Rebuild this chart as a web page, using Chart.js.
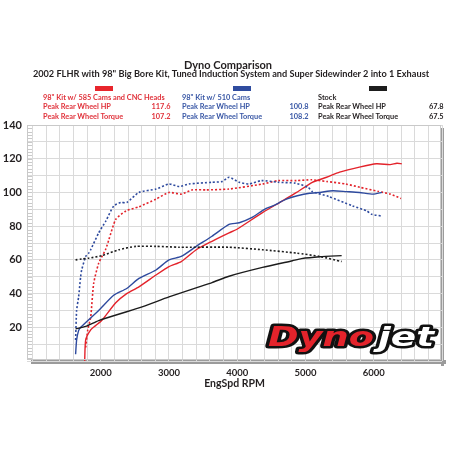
<!DOCTYPE html>
<html>
<head>
<meta charset="utf-8">
<script src="https://cdn.jsdelivr.net/npm/chart.js@4.4.0/dist/chart.umd.min.js"></script>
<style>
  html, body { margin: 0; padding: 0; background: #fff; }
  #wrap { position: relative; width: 458px; height: 458px; font-family: Lato, 'Open Sans', sans-serif; font-weight: 700; color: #231f20; }
  #wrap canvas { position: absolute; left: 0; top: 0; }
  .t { position: absolute; white-space: nowrap; line-height: 1; }
  .c { left: 0; width: 458px; text-align: center; }
  .leg { font-size: 8.4px; transform: scaleX(0.88); transform-origin: left center; }
  .num { transform-origin: right center; }
  .red { color: #e0323b; }
  .blue { color: #3a58a6; }
  .sw { position: absolute; top: 86px; width: 18px; height: 5px; }
</style>
</head>
<body>
<div id="wrap">
  <canvas id="dynoChart" width="458" height="458"></canvas>

  <div class="t c" style="top:59px;font-size:11px;left:-1px;">Dyno Comparison</div>
  <div class="t c" style="top:69px;font-size:9.2px;left:2px;">2002 FLHR with 98" Big Bore Kit, Tuned Induction System and Super Sidewinder 2 into 1 Exhaust</div>

  <div class="sw" style="left:95px;background:#e8252c;"></div>
  <div class="sw" style="left:233px;background:#2f4c9f;"></div>
  <div class="sw" style="left:369px;background:#1d1d1d;"></div>

  <div class="t leg red" style="left:43px;top:93px;">98" Kit w/ 585 Cams and CNC Heads</div>
  <div class="t leg red" style="left:43px;top:102px;">Peak Rear Wheel HP</div>
  <div class="t leg num red" style="right:288px;top:102px;">117.6</div>
  <div class="t leg red" style="left:43px;top:112px;">Peak Rear Wheel Torque</div>
  <div class="t leg num red" style="right:288px;top:112px;">107.2</div>

  <div class="t leg blue" style="left:182px;top:93px;">98" Kit w/ 510 Cams</div>
  <div class="t leg blue" style="left:182px;top:102px;">Peak Rear Wheel HP</div>
  <div class="t leg num blue" style="right:150px;top:102px;">100.8</div>
  <div class="t leg blue" style="left:182px;top:112px;">Peak Rear Wheel Torque</div>
  <div class="t leg num blue" style="right:150px;top:112px;">108.2</div>

  <div class="t leg" style="left:318px;top:93px;">Stock</div>
  <div class="t leg" style="left:318px;top:102px;">Peak Rear Wheel HP</div>
  <div class="t leg num" style="right:14px;top:102px;">67.8</div>
  <div class="t leg" style="left:318px;top:112px;">Peak Rear Wheel Torque</div>
  <div class="t leg num" style="right:14px;top:112px;">67.5</div>
</div>

<script>
// 98" kit w/ 585 cams + CNC heads (red)
const rpmRedHp = [1765, 1780, 1853, 1926, 2015, 2220, 2380, 2560, 2810, 3000, 3180, 3400, 3630, 3880, 3990, 4370, 4620, 4870, 5100, 5310, 5500, 5790, 6040, 6240, 6340, 6410];
const redHp    = [0, 12.5, 18.5, 21, 24, 34.5, 40, 44, 51, 56, 59, 66, 71, 76, 78, 88, 94, 100, 106, 109, 112, 115, 117, 116.5, 117.3, 117];
const rpmRedTq = [1780, 1810, 1853, 1897, 1970, 2070, 2120, 2220, 2370, 2560, 2810, 3000, 3180, 3340, 3540, 3880, 4370, 4600, 4870, 5090, 5310, 5590, 5800, 6070, 6240, 6400];
const redTq    = [8, 18.5, 26, 46, 58, 66, 72, 84, 89, 91.5, 96, 100, 99, 101.5, 101.5, 102, 105, 107, 107, 107.5, 106.5, 105, 103, 100.6, 99, 96.4];

// 98" kit w/ 510 cams (blue)
const rpmBlueHp = [1632, 1647, 1676, 1706, 1970, 2190, 2380, 2560, 2810, 3000, 3180, 3400, 3630, 3880, 4030, 4210, 4400, 4520, 4720, 4880, 5060, 5210, 5400, 5600, 5790, 5990, 6120];
const blueHp    = [4, 12.5, 18, 20, 30, 39, 43, 49, 54, 60, 62, 68, 74, 81, 82, 85, 90, 92, 96, 98, 99.5, 100, 101, 100.5, 100, 99, 100];
const rpmBlueTq = [1632, 1647, 1676, 1706, 1721, 1780, 1824, 1853, 1970, 2074, 2191, 2294, 2382, 2560, 2810, 3000, 3150, 3290, 3630, 3780, 3880, 4030, 4176, 4353, 4600, 4850, 5040, 5100, 5340, 5690, 5900, 5970, 6120];
const blueTq    = [12.5, 30, 38, 50, 54, 62, 64, 66, 76, 83, 92, 94, 94, 100, 102, 105, 103.5, 105, 106, 106.5, 109, 106, 105, 107, 106, 105.5, 103, 100.5, 97.6, 92, 89, 87, 86];

// Stock (black)
const rpmStockHp = [1632, 1780, 1970, 2560, 3000, 3441, 3630, 3880, 4370, 4810, 4940, 5210, 5530];
const stockHp    = [19, 20.5, 24, 31.5, 38, 44, 46.5, 50.3, 55.5, 59.5, 60.7, 61.8, 62.5];
const rpmStockTq = [1632, 1720, 1824, 2015, 2265, 2515, 2810, 3150, 3880, 4370, 4870, 5210, 5530];
const stockTq    = [60, 60.5, 61, 62.5, 66, 68, 68, 67.5, 67.5, 66, 64, 62, 59];

// axis labels
const xTickLabels = [2000, 3000, 4000, 5000, 6000];
const yTickLabels = [20, 40, 60, 80, 100, 120, 140];

const RED = '#e3232b', BLUE = '#2e4a9e', BLACK = '#1c1c1c';

function pts(xs, ys) {
    return xs.map((x, i) => ({ x: x, y: ys[i] }));
}

function series(label, xs, ys, color, dotted) {
    return {
        label: label,
        data: pts(xs, ys),
        borderColor: color,
        borderWidth: dotted ? 1.6 : 1.4,
        borderDash: dotted ? [2, 2] : [],
        pointRadius: 0,
        tension: 0.2,
        fill: false
    };
}

// frame, shadow and small tick marks round the plot
const framePlugin = {
    id: 'frame',
    beforeDraw(chart) {
        const { ctx, chartArea: a } = chart;
        ctx.save();
        ctx.fillStyle = '#9b9b9b';
        ctx.fillRect(a.left + 4, a.bottom - 1, a.right - a.left, 4);
        ctx.fillRect(a.right - 1, a.top + 3, 3, a.bottom - a.top + 2);
        ctx.fillStyle = '#fff';
        ctx.fillRect(a.left, a.top, a.right - a.left - 1, a.bottom - a.top - 1);
        ctx.restore();
    },
    afterDatasetsDraw(chart) {
        const { ctx, chartArea: a, scales } = chart;
        ctx.save();
        ctx.strokeStyle = '#c9c9c9';
        ctx.lineWidth = 1;
        for (let v = 2; v < 140; v += 2) {
            const y = Math.round(scales.y.getPixelForValue(v)) + 0.5;
            ctx.beginPath();
            ctx.moveTo(a.left, y);
            ctx.lineTo(a.left + 5, y);
            ctx.stroke();
        }
        ctx.strokeRect(a.left + 0.5, a.top + 0.5, a.right - a.left - 2, a.bottom - a.top - 2);
        ctx.restore();
    }
};

// Dynojet logo bottom right
const logoPlugin = {
    id: 'logo',
    afterDraw(chart) {
        const ctx = chart.ctx;
        ctx.save();
        ctx.font = 'italic bold 26px "DejaVu Sans"';
        ctx.textBaseline = 'alphabetic';
        ctx.lineJoin = 'round';
        const w1 = ctx.measureText('Dyno').width;
        const w2 = ctx.measureText('jet').width;
        const base = 346;

        ctx.save();
        ctx.translate(268, base);
        ctx.scale(106 / w1, 1);
        ctx.strokeStyle = '#111';
        ctx.lineWidth = 5;
        ctx.strokeText('Dyno', 0, 0);
        ctx.fillStyle = '#e3232b';
        ctx.fillText('Dyno', 0, 0);
        ctx.restore();

        ctx.save();
        ctx.translate(378, base);
        ctx.scale(56 / w2, 1);
        ctx.strokeStyle = '#111';
        ctx.lineWidth = 5;
        ctx.strokeText('jet', 0, 0);
        ctx.fillStyle = '#fff';
        ctx.fillText('jet', 0, 0);
        ctx.restore();

        ctx.restore();
    }
};

function initDynoChart() {
    const ctx = document.getElementById('dynoChart');
    if (!ctx) return;

    new Chart(ctx, {
        type: 'line',
        data: {
            datasets: [
                series('Stock HP', rpmStockHp, stockHp, BLACK, false),
                series('Stock Torque', rpmStockTq, stockTq, BLACK, true),
                series('510 Cams HP', rpmBlueHp, blueHp, BLUE, false),
                series('510 Cams Torque', rpmBlueTq, blueTq, BLUE, true),
                series('585 Cams HP', rpmRedHp, redHp, RED, false),
                series('585 Cams Torque', rpmRedTq, redTq, RED, true)
            ]
        },
        options: {
            responsive: false,
            animation: false,
            events: [],
            layout: { padding: { top: 125, right: 16, bottom: 0, left: 0 } },
            plugins: {
                legend: { display: false },
                tooltip: { enabled: false }
            },
            scales: {
                x: {
                    type: 'linear',
                    min: 920,
                    max: 7000,
                    afterFit: s => { s.height = 97; },
                    afterBuildTicks: s => {
                        const t = [];
                        for (let v = 1000; v <= 7000; v += 200) t.push({ value: v });
                        s.ticks = t;
                    },
                    grid: { color: '#dadada', lineWidth: 1, drawTicks: false },
                    border: { display: false },
                    ticks: {
                        autoSkip: false,
                        maxRotation: 0,
                        padding: 6,
                        color: '#231f20',
                        font: { family: 'Lato', weight: 'bold', size: 9.5 },
                        callback: v => xTickLabels.includes(v) ? String(v) : ''
                    },
                    title: {
                        display: true,
                        text: 'EngSpd RPM',
                        color: '#231f20',
                        font: { family: 'Lato', weight: 'bold', size: 10.5 },
                        padding: { top: 0, bottom: 68 }
                    }
                },
                y: {
                    min: 0,
                    max: 140,
                    afterFit: s => { s.width = 27; },
                    grid: { color: '#dadada', lineWidth: 1, drawTicks: false },
                    border: { display: false },
                    ticks: {
                        stepSize: 10,
                        padding: 5,
                        color: '#231f20',
                        font: { family: 'Lato', weight: 'bold', size: 11 },
                        callback: v => yTickLabels.includes(v) ? String(v) : ''
                    }
                }
            }
        },
        plugins: [framePlugin, logoPlugin]
    });
}

document.addEventListener('DOMContentLoaded', initDynoChart);
</script>
</body>
</html>
